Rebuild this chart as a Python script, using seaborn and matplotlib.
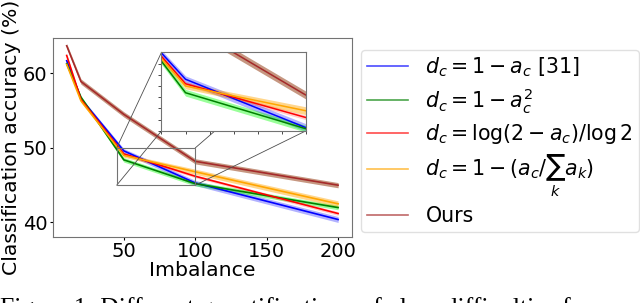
import numpy as np
import pandas as pd
import matplotlib
matplotlib.use("Agg")
import matplotlib.pyplot as plt
import seaborn as sns
from matplotlib.patches import Rectangle, ConnectionPatch

imbalance = [10, 20, 50, 100, 200]

methods = [
    r"$d_c = 1 - a_c$ [31]",
    r"$d_c = 1 - a_c^2$",
    r"$d_c = \log(2 - a_c)/\log2$",
    r"$d_c = 1 - (a_c/\sum_k a_k)$",
    "Ours",
]
acc_inv = [61.7, 56.6, 49.6, 45.3, 40.4]
acc_sq = [61.3, 56.8, 48.4, 45.2, 42.0]
acc_log = [62.4, 56.5, 49.2, 46.2, 41.2]
acc_norm = [61.2, 56.3, 49.0, 46.8, 42.5]
acc_ours = [63.7, 58.9, 54.5, 48.2, 45.0]

std_inv = [0.2, 0.2, 0.3, 0.35, 0.4]
std_sq = [0.2, 0.2, 0.3, 0.3, 0.3]
std_log = [0.15, 0.15, 0.2, 0.2, 0.25]
std_norm = [0.2, 0.2, 0.25, 0.35, 0.4]
std_ours = [0.3, 0.35, 0.35, 0.35, 0.35]

line_colors = ["blue", "green", "red", "orange", "brown"]
band_colors = ["blue", "lime", "red", "orange", "sienna"]
band_alpha = [0.3, 0.4, 0.2, 0.45, 0.6]

means = [acc_inv, acc_sq, acc_log, acc_norm, acc_ours]
stds = [std_inv, std_sq, std_log, std_norm, std_ours]

df = pd.DataFrame({
    "Imbalance": imbalance * len(methods),
    "acc": sum(means, []),
    "std": sum(stds, []),
    "method": [m for m in methods for _ in imbalance],
})
df["lo"] = df["acc"] - df["std"]
df["hi"] = df["acc"] + df["std"]

fig = plt.figure(figsize=(6.4, 3.03), dpi=100)
ax = fig.add_axes([0.083, 0.219, 0.4665, 0.657])


def draw(a, lw):
    for m, bc, al in zip(methods, band_colors, band_alpha):
        d = df[df["method"] == m]
        a.fill_between(d["Imbalance"], d["lo"], d["hi"], color=bc, alpha=al, lw=0)
    sns.lineplot(data=df, x="Imbalance", y="acc", hue="method", hue_order=methods,
                 palette=line_colors, ax=a, lw=lw, legend=a is ax)


draw(ax, 1.2)
ax.set_ylim(38.1, 64.8)
ax.set_xticks([50, 100, 150, 200])
ax.set_yticks([40, 50, 60])
ax.tick_params(labelsize=14, length=2.5, width=0.8, pad=1.5)
ax.set_xlabel("Imbalance", fontsize=14.7, labelpad=0)
ax.set_ylabel("Classification accuracy (%)", fontsize=14.7, labelpad=1)
for s in ax.spines.values():
    s.set_color("0.45")

handles, labels = ax.get_legend_handles_labels()
for h in handles:
    h.set_alpha(0.7)
ax.legend(handles, labels, loc="upper left", bbox_to_anchor=(1.03, 0.94),
          fontsize=14.8, frameon=True, handlelength=2.0, labelspacing=0.33,
          borderaxespad=0, handletextpad=0.85, borderpad=0.3, edgecolor="0.85")

# zoomed inset
axins = ax.inset_axes([0.363, 0.531, 0.483, 0.395])
draw(axins, 1.1)
axins.set_xlim(40, 100)
axins.set_ylim(45, 52)
axins.set_xticks(np.arange(40, 101, 10))
axins.set_yticks(np.arange(45, 52, 1))
axins.set_xticklabels([])
axins.set_yticklabels([])
axins.set_xlabel("")
axins.set_ylabel("")
axins.tick_params(length=2, width=0.5)
for s in axins.spines.values():
    s.set_color("0.45")

rect = Rectangle((45, 45), 55, 5, fill=False, ec="0.45", lw=0.8, zorder=4)
ax.add_patch(rect)
corners = [((45, 50), (0, 1)), ((45, 45), (0, 0)), ((100, 45), (1, 0)), ((100, 50), (1, 1))]
for pa, pb in corners:
    cp = ConnectionPatch(xyA=pa, coordsA=ax.transData, xyB=pb, coordsB=axins.transAxes,
                         color="0.3", lw=0.6, zorder=3)
    ax.add_artist(cp)

fig.text(0.0, -0.04, "Figure 1: Different quantifications of class difficulties for",
         fontsize=18.5, family="Liberation Serif", va="baseline", ha="left")

fig.savefig("out.png", dpi=100)
